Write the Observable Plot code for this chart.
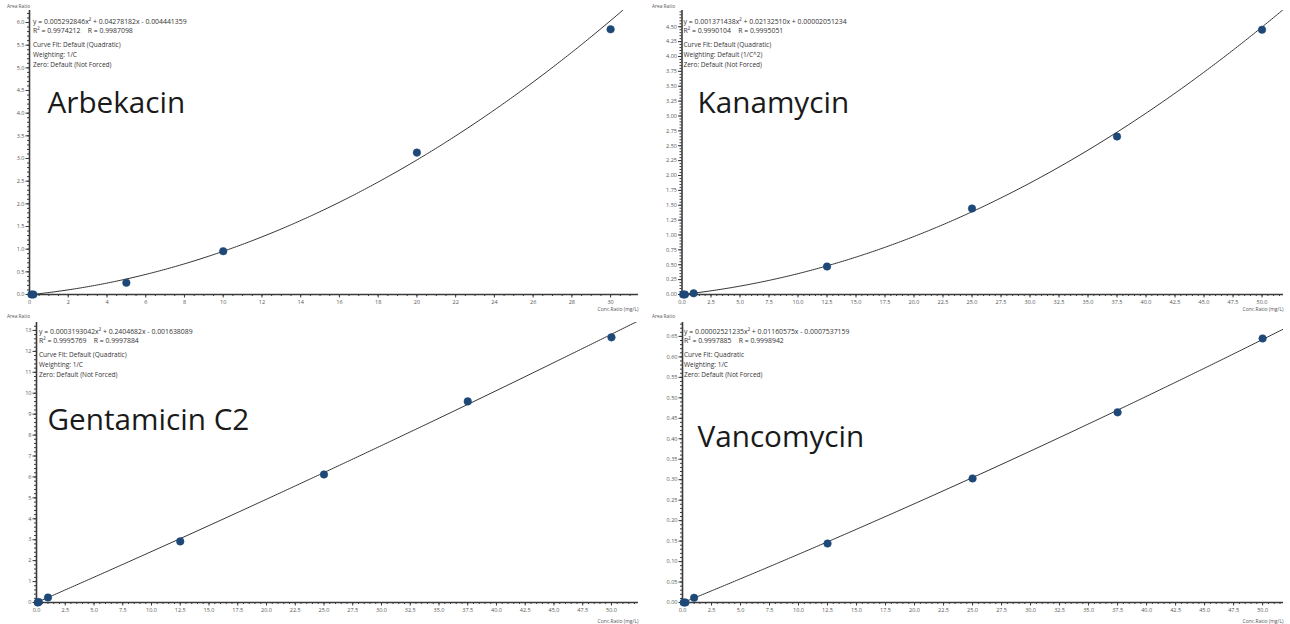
<!DOCTYPE html>
<html>
<head>
<meta charset="utf-8">
<script src="https://cdn.jsdelivr.net/npm/d3@7"></script>
<script src="https://cdn.jsdelivr.net/npm/@observablehq/plot@0.6"></script>
<style>
  html, body { margin: 0; padding: 0; background: #fff; }
  #grid { position: relative; width: 1290px; height: 624px; }
  .panel { position: absolute; width: 645px; height: 312px; }
  .panel svg { display: block; }
</style>
</head>
<body>
<div id="grid"></div>
<script>
// ---------- data ----------
const titles = ["Arbekacin", "Kanamycin", "Gentamicin C2", "Vancomycin"];

const arbekacinX = [0.1, 0.2, 5, 10, 20, 30];
const arbekacinY = [0, 0, 0.26, 0.955, 3.13, 5.85];
const kanamycinX = [0.1, 0.25, 1, 12.5, 25, 37.5, 50];
const kanamycinY = [0, 0, 0.02, 0.47, 1.445, 2.655, 4.45];
const gentamicinX = [0.1, 0.2, 1, 12.5, 25, 37.5, 50];
const gentamicinY = [0, 0.02, 0.24, 2.92, 6.12, 9.61, 12.67];
const vancomycinX = [0.1, 0.25, 1, 12.5, 25, 37.5, 50];
const vancomycinY = [0, 0, 0.0115, 0.144, 0.303, 0.4645, 0.645];

// quadratic fit coefficients [a, b, c] : y = a x^2 + b x + c
const arbekacinFit = [0.005292846, 0.04278182, -0.004441359];
const kanamycinFit = [0.001371438, 0.02132510, 0.00002051234];
const gentamicinFit = [0.0003193042, 0.2404682, -0.001638089];
const vancomycinFit = [0.00002521235, 0.01160575, -0.0007537159];

const equations = [
  "y = 0.005292846x² + 0.04278182x - 0.004441359",
  "y = 0.001371438x² + 0.02132510x + 0.00002051234",
  "y = 0.0003193042x² + 0.2404682x - 0.001638089",
  "y = 0.00002521235x² + 0.01160575x - 0.0007537159"
];
const rValues = [
  "R² = 0.9974212    R = 0.9987098",
  "R² = 0.9990104    R = 0.9995051",
  "R² = 0.9995769    R = 0.9997884",
  "R² = 0.9997885    R = 0.9998942"
];
const curveFits = ["Curve Fit: Default (Quadratic)", "Curve Fit: Default (Quadratic)", "Curve Fit: Default (Quadratic)", "Curve Fit: Quadratic"];
const weightings = ["Weighting: 1/C", "Weighting: Default (1/C^2)", "Weighting: 1/C", "Weighting: 1/C"];
const zeros = ["Zero: Default (Not Forced)", "Zero: Default (Not Forced)", "Zero: Default (Not Forced)", "Zero: Default (Not Forced)"];

// axis ticks
const arbekacinXTicks = d3.range(0, 31, 2);
const arbekacinYTicks = d3.range(0, 6.01, 0.5);
const kanamycinXTicks = d3.range(0, 50.1, 2.5);
const kanamycinYTicks = d3.range(0, 4.51, 0.25);
const gentamicinXTicks = d3.range(0, 50.1, 2.5);
const gentamicinYTicks = d3.range(0, 13.1, 1);
const vancomycinXTicks = d3.range(0, 50.1, 2.5);
const vancomycinYTicks = d3.range(0, 0.651, 0.05);

const xAxisLabel = "Conc.Ratio (mg/L)";
const yAxisLabel = "Area Ratio";

// ---------- layout (not data) ----------
const layouts = [
  {left: 29, top: 10, bottom: 18, xMax: 31.44, yMax: 6.265, xMinor: 0.5, yMinor: 0.1, xFmt: d3.format("d"), yFmt: d3.format(".1f"),
   titleX: 47, titleY: 103, textX: 32.5, textY: [21.5, 30.5, 44.5, 54.5, 64.5], areaY: 5.5},
  {left: 36.5, top: 10, bottom: 18, xMax: 51.85, yMax: 4.773, xMinor: 0.5, yMinor: 0.05, xFmt: d3.format(".1f"), yFmt: d3.format(".2f"),
   titleX: 52, titleY: 103, textX: 38, textY: [21.5, 30.5, 44.5, 54.5, 64.5], areaY: 5.5},
  {left: 36, top: 10, bottom: 22, xMax: 52.35, yMax: 13.38, xMinor: 0.5, yMinor: 0.2, xFmt: d3.format(".1f"), yFmt: d3.format("d"),
   titleX: 47, titleY: 108, textX: 38.5, textY: [19.5, 28.5, 42, 52, 62], areaY: 4},
  {left: 37, top: 10, bottom: 22, xMax: 51.8, yMax: 0.684, xMinor: 0.5, yMinor: 0.01, xFmt: d3.format(".1f"), yFmt: d3.format(".2f"),
   titleX: 52, titleY: 125, textX: 38.5, textY: [19.5, 28.5, 42, 52, 62], areaY: 4}
];
const xs = [arbekacinX, kanamycinX, gentamicinX, vancomycinX];
const ys = [arbekacinY, kanamycinY, gentamicinY, vancomycinY];
const fits = [arbekacinFit, kanamycinFit, gentamicinFit, vancomycinFit];
const xTicks = [arbekacinXTicks, kanamycinXTicks, gentamicinXTicks, vancomycinXTicks];
const yTicks = [arbekacinYTicks, kanamycinYTicks, gentamicinYTicks, vancomycinYTicks];

const grid = document.getElementById("grid");
const W = 645, H = 312, RIGHT = 7;
const ink = "#3a3a3a";

for (let i = 0; i < 4; i++) {
  const L = layouts[i];
  const pts = xs[i].map((x, k) => ({x, y: ys[i][k]}));
  const [a, b, c] = fits[i];
  const curve = d3.range(0, L.xMax + 0.001, L.xMax / 300).map(x => ({x, y: a * x * x + b * x + c}));
  const xMinorTicks = d3.range(0, L.xMax, L.xMinor);
  const yMinorTicks = d3.range(0, L.yMax, L.yMinor);
  // text anchored in panel-local pixels via the frame's top-left corner
  const txt = (s, x, y, size, extra = {}) => Plot.text([s], {
    frameAnchor: "top-left", dx: x - L.left, dy: y - L.top, text: d => d,
    textAnchor: "start", lineAnchor: "middle", fontSize: size, fill: "#333", ...extra
  });

  const chart = Plot.plot({
    width: W, height: H,
    marginLeft: L.left, marginRight: RIGHT, marginTop: L.top, marginBottom: L.bottom,
    x: {domain: [0, L.xMax], label: null},
    y: {domain: [0, L.yMax], label: null},
    style: {fontFamily: "'Open Sans', sans-serif", background: "#fff", overflow: "visible"},
    marks: [
      Plot.axisX({ticks: xMinorTicks, tickSize: 2, text: null, stroke: ink, label: null}),
      Plot.axisX({ticks: xTicks[i], tickSize: 3.5, tickPadding: 2, tickFormat: L.xFmt, fontSize: 5.5, fill: "#555", stroke: ink, label: null}),
      Plot.axisY({ticks: yMinorTicks, tickSize: 2, text: null, stroke: ink, label: null}),
      Plot.axisY({ticks: yTicks[i], tickSize: 3.5, tickPadding: 1.5, tickFormat: L.yFmt, fontSize: 5.5, fill: "#555", stroke: ink, label: null}),
      Plot.ruleX([0], {stroke: ink, strokeWidth: 1.6}),
      Plot.ruleY([0], {stroke: ink, strokeWidth: 1.6}),
      Plot.line(curve, {x: "x", y: "y", stroke: "#333", strokeWidth: 1, clip: true}),
      Plot.dot(pts, {x: "x", y: "y", r: 3.8, fill: "#1d4878", stroke: "#1d4878", strokeWidth: 0.5}),
      txt(yAxisLabel, 6.5, L.areaY, 4.8, {fill: "#555"}),
      txt(xAxisLabel, W - RIGHT, 309, 5, {textAnchor: "end", fill: "#555"}),
      txt(equations[i], L.textX, L.textY[0], 6.9),
      txt(rValues[i], L.textX, L.textY[1], 6.9),
      txt(curveFits[i], L.textX, L.textY[2], 6.5),
      txt(weightings[i], L.textX, L.textY[3], 6.5),
      txt(zeros[i], L.textX, L.textY[4], 6.5),
      txt(titles[i], L.titleX, L.titleY, 29.7, {fill: "#1a1a1a"})
    ]
  });
  const div = document.createElement("div");
  div.className = "panel";
  div.style.left = (i % 2) * W + "px";
  div.style.top = Math.floor(i / 2) * H + "px";
  div.appendChild(chart);
  grid.appendChild(div);
}
</script>
</body>
</html>
